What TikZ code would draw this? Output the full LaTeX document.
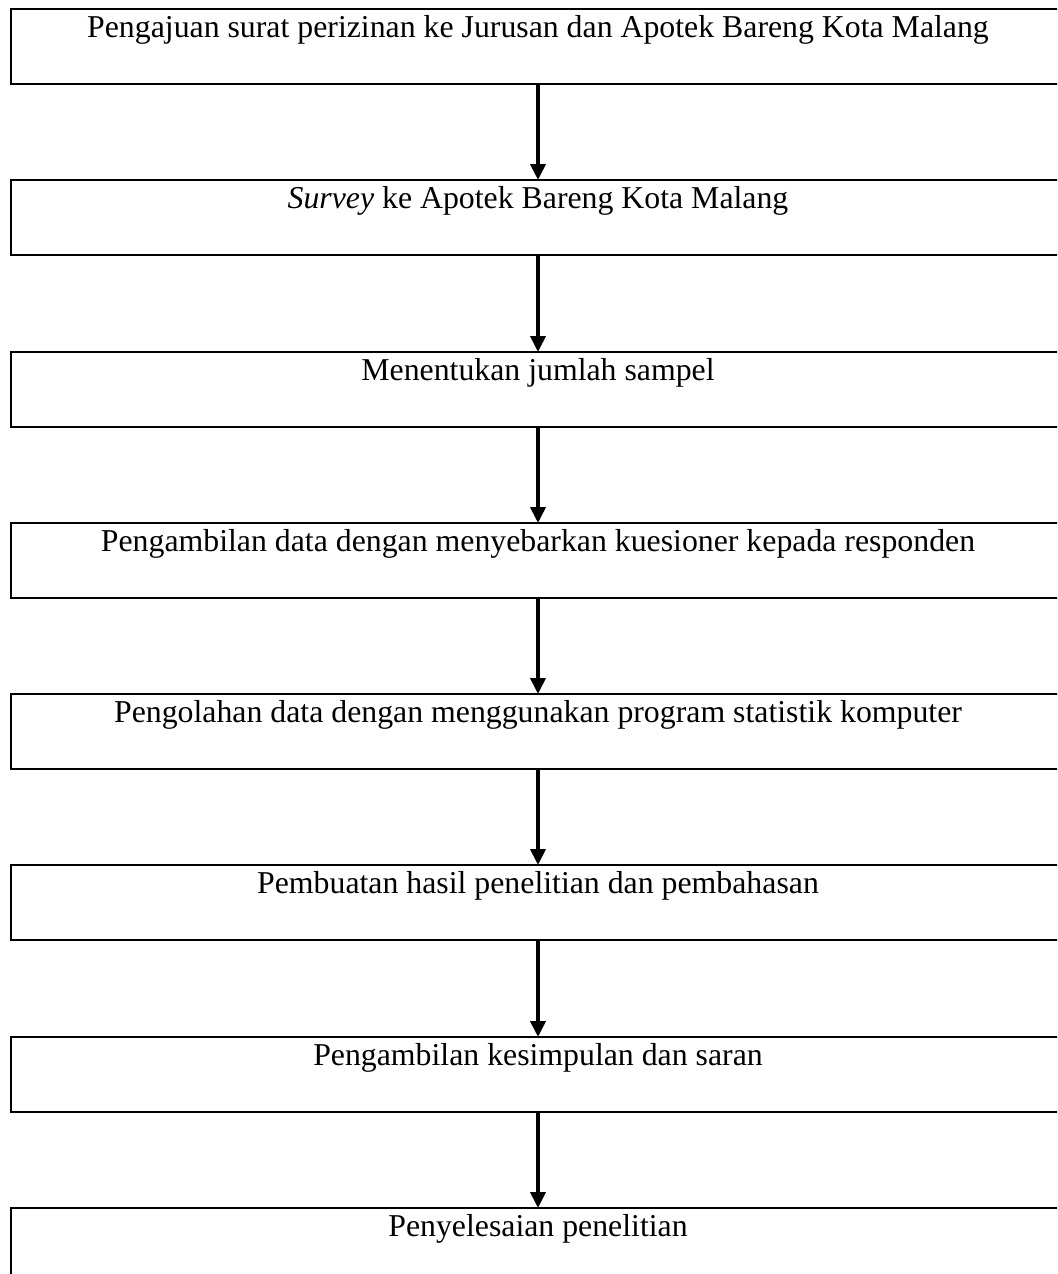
\documentclass[tikz,border=0pt]{standalone}
\usepackage{fontspec}
\setmainfont{Liberation Serif}
\usetikzlibrary{arrows.meta}
\begin{document}
\begin{tikzpicture}[x=0.5pt,y=-0.5pt,
  box/.style={draw, line width=0.9pt, minimum width=527pt, minimum height=37.5pt, inner sep=0pt, outer sep=0pt, anchor=north west},
  lbl/.style={anchor=base, inner sep=0pt, font=\fontsize{15.9pt}{19pt}\selectfont},
  arr/.style={line width=1.9pt, -{Triangle[length=8pt,width=7.5pt]}}]
\useasboundingbox (0,0) rectangle (1057,1274);
\clip (0,0) rectangle (1057,1274);
\node[box] (b1) at (11,9) {};
\node[box] (b2) at (11,180) {};
\node[box] (b3) at (11,352) {};
\node[box] (b4) at (11,523) {};
\node[box] (b5) at (11,694) {};
\node[box] (b6) at (11,865) {};
\node[box] (b7) at (11,1037) {};
\node[box] (b8) at (11,1208) {};
\node[lbl] (t1) at (538,37) {Pengajuan surat perizinan ke Jurusan dan Apotek Bareng Kota Malang};
\node[lbl] (t2) at (538,208) {\textit{Survey} ke Apotek Bareng Kota Malang};
\node[lbl] (t3) at (538,380) {Menentukan jumlah sampel};
\node[lbl] (t4) at (538,551) {Pengambilan data dengan menyebarkan kuesioner kepada responden};
\node[lbl] (t5) at (538,722) {Pengolahan data dengan menggunakan program statistik komputer};
\node[lbl] (t6) at (538,893) {Pembuatan hasil penelitian dan pembahasan};
\node[lbl] (t7) at (538,1065) {Pengambilan kesimpulan dan saran};
\node[lbl] (t8) at (538,1236) {Penyelesaian penelitian};
\draw[arr] (b1.south) -- (b2.north);
\draw[arr] (b2.south) -- (b3.north);
\draw[arr] (b3.south) -- (b4.north);
\draw[arr] (b4.south) -- (b5.north);
\draw[arr] (b5.south) -- (b6.north);
\draw[arr] (b6.south) -- (b7.north);
\draw[arr] (b7.south) -- (b8.north);
\end{tikzpicture}
\end{document}
